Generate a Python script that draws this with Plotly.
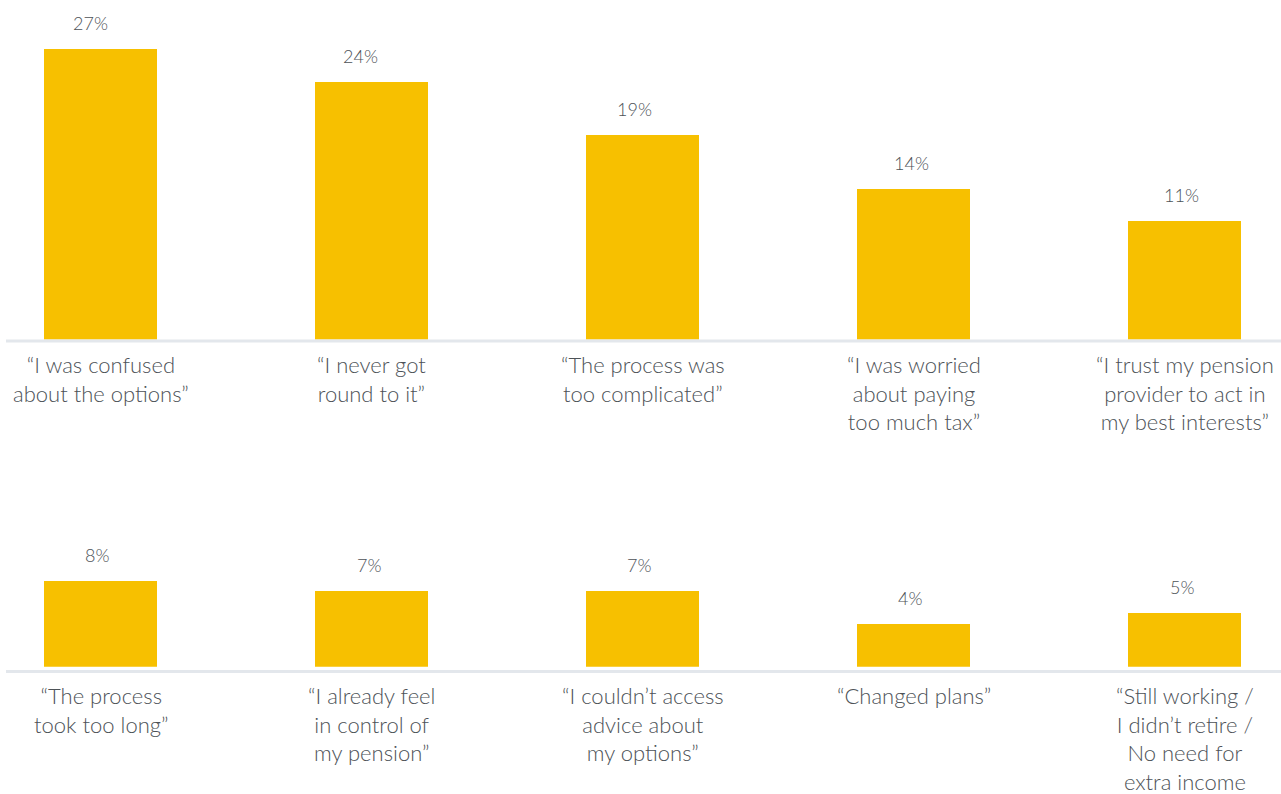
import plotly.graph_objects as go

# Survey responses, split over two rows of five bars
top_labels = [
    "“I was confused<br>about the options”",
    "“I never got<br>round to it”",
    "“The process was<br>too complicated”",
    "“I was worried<br>about paying<br>too much tax”",
    "“I trust my pension<br>provider to act in<br>my best interests”",
]
top_values = [27, 24, 19, 14, 11]

bottom_labels = [
    "“The process<br>took too long”",
    "“I already feel<br>in control of<br>my pension”",
    "“I couldn’t access<br>advice about<br>my options”",
    "“Changed plans”",
    "“Still working /<br>I didn’t retire /<br>No need for<br>extra income",
]
bottom_values = [8, 7, 7, 4, 5]

# horizontal nudge (px) of each value label relative to its bar centre
top_nudge = [-10.5, -11, -8.5, -2, -3.5]
bottom_nudge = [-3.5, -2.5, -3.5, -3.5, -2.5]

W, H = 1281, 794
BAR = "#F7C000"
TEXT = "#4D5257"
LINE = "#E3E7EC"
FONT = "Lato"
PX_PER_PCT = 10.75

# pixel positions of the two baselines and the top of the lower panel
base1, base2, top2 = 339.5, 666.7, 540.0
first_center, spacing = 100.5, 271.0

xrange_ = [-first_center / spacing, (W - first_center) / spacing]

fig = go.Figure()
rows = [
    (top_labels, top_values, top_nudge, "x", "y", -9),
    (bottom_labels, bottom_values, bottom_nudge, "x2", "y2", -13),
]
for labels, values, nudge, xa, ya, cat_shift in rows:
    idx = list(range(len(values)))
    fig.add_trace(go.Bar(
        x=idx, y=values, xaxis=xa, yaxis=ya,
        marker=dict(color=BAR, line=dict(width=0)),
        width=113 / spacing, hoverinfo="skip", showlegend=False,
    ))
    for i, (lab, v, dx) in enumerate(zip(labels, values, nudge)):
        fig.add_annotation(
            x=i, y=v, xref=xa, yref=ya, text=f"{v}%", showarrow=False,
            yanchor="bottom", yshift=13, xshift=dx,
            font=dict(family=FONT, size=18, color=TEXT, weight=300),
        )
        fig.add_annotation(
            x=i, y=0, xref=xa, yref=ya, text=lab, showarrow=False,
            yanchor="top", yshift=cat_shift, align="center",
            font=dict(family=FONT, size=22, color=TEXT, weight=300),
        )

axis_common = dict(visible=False, showgrid=False, zeroline=False, fixedrange=True)
fig.update_layout(
    width=W, height=H,
    margin=dict(l=0, r=0, t=0, b=0),
    paper_bgcolor="white", plot_bgcolor="white",
    bargap=0,
    xaxis=dict(domain=[0, 1], range=xrange_, anchor="y", **axis_common),
    yaxis=dict(domain=[(H - base1) / H, 1], range=[0, base1 / PX_PER_PCT],
               anchor="x", **axis_common),
    xaxis2=dict(domain=[0, 1], range=xrange_, anchor="y2", **axis_common),
    yaxis2=dict(domain=[(H - base2) / H, (H - top2) / H],
                range=[0, (base2 - top2) / PX_PER_PCT], anchor="x2", **axis_common),
    shapes=[
        dict(type="line", xref="paper", yref="paper", x0=6 / W, x1=1,
             y0=(H - 341) / H, y1=(H - 341) / H, line=dict(color=LINE, width=3)),
        dict(type="line", xref="paper", yref="paper", x0=6 / W, x1=1,
             y0=(H - 671.5) / H, y1=(H - 671.5) / H, line=dict(color=LINE, width=3)),
    ],
)

fig.write_html("out.html")
